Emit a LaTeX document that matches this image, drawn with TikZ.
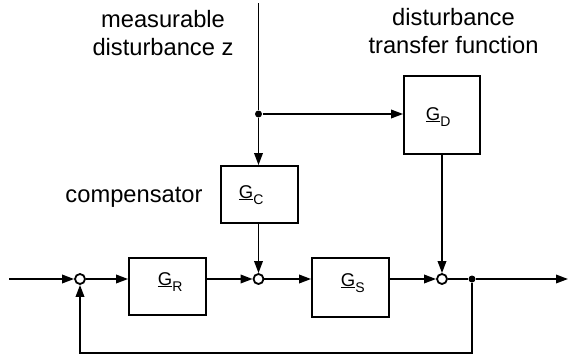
\documentclass[tikz,border=0pt]{standalone}
\usepackage{fontspec}
\setmainfont{Liberation Sans}
\usetikzlibrary{arrows.meta}
\newcommand{\tfsym}[1]{\fontsize{18.5}{18.5}\selectfont\underline{G}\raisebox{-6.5pt}{\fontsize{14}{14}\selectfont #1}}
\begin{document}
\begin{tikzpicture}[x=1pt,y=-1pt,
  line width=1.8pt,
  sig/.style={-{Triangle[length=12pt,width=8.5pt]}},
  blk/.style={draw,rectangle,inner sep=0pt},
  sumpt/.style={draw,circle,minimum size=10pt,inner sep=0pt,fill=white},
  tap/.style={circle,fill,minimum size=7pt,inner sep=0pt},
  caption/.style={font=\fontsize{23.7}{27.5}\selectfont,align=center,inner sep=0pt,anchor=base},
  tflabel/.style={inner sep=0pt}]
\useasboundingbox (0,0) rectangle (568,356);

% summing points and branch points
\node[sumpt] (s1) at (80,279) {};
\node[sumpt] (s2) at (258.5,279) {};
\node[sumpt] (s3) at (442,279) {};
\node[tap] (yb) at (472,279) {};
\node[tap] (zb) at (258.5,114) {};
\coordinate (win) at (9,279);
\coordinate (yout) at (568,279);
\coordinate (ztop) at (258.5,3);
\coordinate (fb) at (472,353);

% transfer blocks
\node[blk,minimum width=77pt,minimum height=57pt] (gr) at (167.5,286.5) {};
\node[blk,minimum width=77pt,minimum height=59pt] (gs) at (350.5,287.5) {};
\node[blk,minimum width=77pt,minimum height=57pt] (gc) at (259.5,194.5) {};
\node[blk,minimum width=76pt,minimum height=78pt] (gd) at (442,115) {};

\node[tflabel,anchor=base west] (lr) at (157,285) {\tfsym{R}};
\node[tflabel,anchor=base west] (ls) at (340,286) {\tfsym{S}};
\node[tflabel,anchor=base west] (lc) at (238,198) {\tfsym{C}};
\node[tflabel,anchor=base west] (ld) at (425,120) {\tfsym{D}};

% captions (base anchor sits on the last line)
\node[caption] (tz) at (163,55) {measurable\\disturbance z};
\node[caption] (td) at (453.5,53) {disturbance\\transfer function};
\node[caption] (tc) at (134,202) {compensator};

% main loop
\draw[sig] (win) -- (s1.west);
\draw[sig] (s1.east) -- (s1 -| gr.west);
\draw[sig] (s2 -| gr.east) -- (s2.west);
\draw[sig] (s2.east) -- (s2 -| gs.west);
\draw[sig] (s3 -| gs.east) -- (s3.west);
\draw (s3.east) -- (yb);
\draw[sig] (yb) -- (yout);
\draw[sig] (yb) -- (fb) -| (s1.south);

% disturbance paths
\draw (ztop) -- (zb);
\draw[sig] (zb) -- (zb |- gc.north);
\draw[sig] (zb) -- (zb -| gd.west);
\draw[sig] (s2 |- gc.south) -- (s2.north);
\draw[sig] (gd.south) -- (s3.north);
\end{tikzpicture}
\end{document}
